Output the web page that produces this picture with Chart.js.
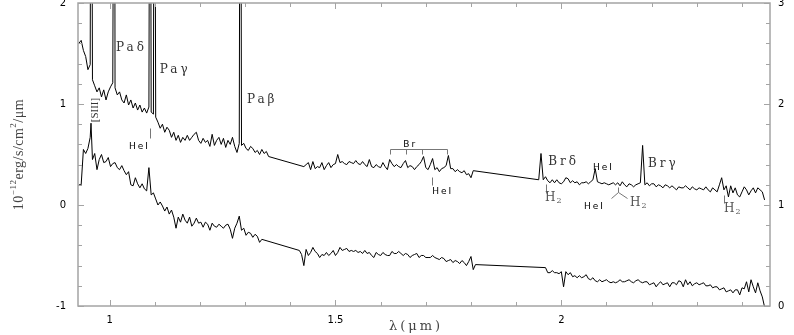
<!DOCTYPE html>
<html>
<head>
<meta charset="utf-8">
<script src="https://cdn.jsdelivr.net/npm/chart.js@4/dist/chart.umd.min.js"></script>
<style>
  html, body { margin: 0; padding: 0; background: #fff; }
</style>
</head>
<body>
<canvas id="chart" width="794" height="335"></canvas>
<script>
// sampling of the spectrograph (micron)
const gridStep = 0.005

// upper spectrum, flux in 1e-12 erg/s/cm2/um, one list per band
const upperJStart = 0.932
const upperJ = [1.60, 1.63, 1.53, 1.47, 1.34, 1.39, 1.24, 1.18, 1.12, 1.16, 1.07, 1.14, 1.04, 1.12, 1.17, 1.21,
  1.16, 1.09, 1.12, 1.04, 1.01, 1.09, 0.99, 1.04, 0.96, 1.01, 0.94, 0.99, 0.92, 0.96, 0.91, 0.97, 0.92, 0.90,
  0.87, 0.82, 0.76, 0.80, 0.72, 0.77, 0.74, 0.67, 0.72, 0.64, 0.69, 0.62, 0.67, 0.64, 0.69, 0.64, 0.67, 0.70,
  0.72, 0.64, 0.61, 0.66, 0.62, 0.64, 0.58, 0.70, 0.59, 0.64, 0.67, 0.60, 0.66, 0.57, 0.64, 0.60, 0.67, 0.58,
  0.52, 0.61, 0.59, 0.61, 0.56, 0.54, 0.58, 0.56, 0.52, 0.54, 0.50, 0.55, 0.51, 0.53, 0.48]
const upperHStart = 1.430
const upperH = [0.38, 0.40, 0.42, 0.35, 0.43, 0.36, 0.38, 0.37, 0.42, 0.35, 0.39, 0.42, 0.37, 0.40, 0.41, 0.50,
  0.42, 0.43, 0.41, 0.40, 0.43, 0.42, 0.41, 0.44, 0.41, 0.40, 0.43, 0.40, 0.38, 0.45, 0.38, 0.37, 0.40, 0.38,
  0.37, 0.42, 0.38, 0.35, 0.45, 0.41, 0.38, 0.40, 0.38, 0.37, 0.41, 0.44, 0.37, 0.39, 0.38, 0.35, 0.38, 0.40,
  0.43, 0.48, 0.37, 0.35, 0.40, 0.46, 0.35, 0.37, 0.33, 0.36, 0.37, 0.39, 0.49, 0.36, 0.36, 0.33, 0.35, 0.33,
  0.32, 0.34, 0.30, 0.31, 0.27, 0.34]
const upperKStart = 1.950
const upperK = [0.25, 0.51, 0.25, 0.28, 0.24, 0.22, 0.25, 0.22, 0.25, 0.22, 0.21, 0.23, 0.27, 0.26, 0.22, 0.24,
  0.22, 0.23, 0.20, 0.22, 0.22, 0.23, 0.21, 0.23, 0.25, 0.36, 0.23, 0.22, 0.21, 0.22, 0.21, 0.20, 0.21, 0.22,
  0.20, 0.22, 0.19, 0.23, 0.20, 0.18, 0.21, 0.20, 0.18, 0.20, 0.21, 0.22, 0.59, 0.20, 0.22, 0.19, 0.21, 0.21,
  0.18, 0.20, 0.19, 0.17, 0.20, 0.19, 0.17, 0.19, 0.17, 0.15, 0.18, 0.17, 0.17, 0.19, 0.17, 0.15, 0.18, 0.16,
  0.15, 0.17, 0.16, 0.15, 0.18, 0.15, 0.13, 0.17, 0.15, 0.13, 0.20, 0.27, 0.15, 0.19, 0.08, 0.19, 0.12, 0.17,
  0.10, 0.08, 0.13, 0.18, 0.15, 0.10, 0.14, 0.17, 0.12, 0.17, 0.15, 0.13, 0.05]
// strong lines of the upper spectrum: [wavelength, peak] (peaks run off the top)
const upperLines = [[0.9593, 6], [1.0106, 6], [1.0897, 6], [1.0990, 6], [1.2895, 6]]

// lower spectrum
const lowerJStart = 0.932
const lowerJ = [0.20, 0.20, 0.55, 0.51, 0.56, 0.67, 0.45, 0.51, 0.35, 0.45, 0.50, 0.42, 0.43, 0.47, 0.38, 0.41,
  0.42, 0.37, 0.35, 0.39, 0.34, 0.30, 0.33, 0.20, 0.19, 0.27, 0.21, 0.17, 0.21, 0.16, 0.14, 0.37, 0.10, 0.12,
  0.06, 0.00, 0.03, -0.01, -0.06, -0.02, -0.09, -0.05, -0.12, -0.23, -0.12, -0.17, -0.09, -0.15, -0.18, -0.12,
  -0.21, -0.18, -0.13, -0.18, -0.17, -0.22, -0.17, -0.19, -0.25, -0.18, -0.21, -0.22, -0.19, -0.21, -0.23,
  -0.20, -0.19, -0.24, -0.33, -0.23, -0.18, -0.11, -0.25, -0.23, -0.30, -0.27, -0.28, -0.32, -0.29, -0.31,
  -0.37, -0.34]
const lowerHStart = 1.420
const lowerH = [-0.45, -0.49, -0.60, -0.44, -0.50, -0.47, -0.42, -0.46, -0.48, -0.52, -0.49, -0.50, -0.47,
  -0.50, -0.48, -0.45, -0.50, -0.47, -0.42, -0.45, -0.44, -0.43, -0.46, -0.45, -0.46, -0.45, -0.47, -0.46,
  -0.48, -0.45, -0.48, -0.47, -0.50, -0.52, -0.47, -0.49, -0.50, -0.47, -0.49, -0.50, -0.50, -0.46, -0.48,
  -0.48, -0.46, -0.48, -0.50, -0.48, -0.49, -0.52, -0.50, -0.49, -0.48, -0.52, -0.50, -0.50, -0.52, -0.52,
  -0.52, -0.50, -0.52, -0.53, -0.54, -0.52, -0.53, -0.56, -0.55, -0.54, -0.57, -0.55, -0.56, -0.58, -0.55,
  -0.57, -0.60, -0.56, -0.51, -0.64, -0.59]
const lowerKStart = 1.965
const lowerK = [-0.62, -0.67, -0.67, -0.65, -0.67, -0.67, -0.68, -0.66, -0.81, -0.66, -0.69, -0.67, -0.71,
  -0.70, -0.72, -0.70, -0.72, -0.71, -0.69, -0.73, -0.74, -0.72, -0.75, -0.76, -0.74, -0.76, -0.75, -0.74,
  -0.76, -0.77, -0.76, -0.77, -0.76, -0.74, -0.76, -0.76, -0.75, -0.74, -0.76, -0.77, -0.75, -0.74, -0.76,
  -0.77, -0.76, -0.76, -0.79, -0.78, -0.77, -0.81, -0.78, -0.76, -0.79, -0.78, -0.77, -0.81, -0.77, -0.77,
  -0.79, -0.75, -0.76, -0.81, -0.74, -0.79, -0.76, -0.80, -0.78, -0.77, -0.79, -0.78, -0.77, -0.80, -0.80,
  -0.79, -0.82, -0.81, -0.81, -0.84, -0.83, -0.82, -0.86, -0.85, -0.84, -0.87, -0.84, -0.84, -0.89, -0.82,
  -0.83, -0.76, -0.86, -0.74, -0.81, -0.87, -0.77, -0.85, -0.91, -1.01]
const lowerLines = [[0.9588, 0.81]]

// axes
const xLabelTicks = [1, 1.5, 2]
const xMinorTicks = [1.0, 1.1, 1.2, 1.3, 1.4, 1.5, 1.6, 1.7, 1.8, 1.9, 2.0, 2.1, 2.2, 2.3, 2.4]
const yMinorTicks = [-0.8, -0.6, -0.4, -0.2, 0.2, 0.4, 0.6, 0.8, 1.2, 1.4, 1.6, 1.8]
const yMajorTicks = [-1, 0, 1, 2]

function segment(start, values) {
  return values.map((v, i) => ({x: +(start + i * gridStep).toFixed(4), y: v}))
}

function spectrum(segments, lines) {
  return segments.flat()
    .concat(lines.map(([x, y]) => ({x, y})))
    .sort((a, b) => a.x - b.x)
}

const upper = spectrum([segment(upperJStart, upperJ), segment(upperHStart, upperH), segment(upperKStart, upperK)], upperLines)
const lower = spectrum([segment(lowerJStart, lowerJ), segment(lowerHStart, lowerH), segment(lowerKStart, lowerK)], lowerLines)

const serif = 'DejaVu Serif'
const sans = 'DejaVu Sans'
const frameColor = '#a4a4a4'

// labels placed at (wavelength, flux)
const serifLabels = [
  {text: 'Paδ', x: 1.014, y: 1.56},
  {text: 'Paγ', x: 1.111, y: 1.34},
  {text: 'Paβ', x: 1.304, y: 1.04},
  {text: 'Brδ', x: 1.971, y: 0.43},
  {text: 'Brγ', x: 2.192, y: 0.41}
]
const sansLabels = [
  {text: 'HeI', x: 1.043, y: 0.58},
  {text: 'Br', x: 1.650, y: 0.60},
  {text: 'HeI', x: 1.714, y: 0.13},
  {text: 'HeI', x: 2.070, y: 0.37},
  {text: 'HeI', x: 2.050, y: -0.02}
]
const h2Labels = [
  {x: 1.964, y: 0.07},
  {x: 2.152, y: 0.02},
  {x: 2.360, y: -0.04}
]
const markers = [
  [[1.0892, 0.76], [1.0892, 0.66]],
  [[1.7137, 0.28], [1.7137, 0.20]],
  [[1.9661, 0.21], [1.9661, 0.12]],
  [[2.3603, 0.10], [2.3603, 0.02]],
  [[2.1249, 0.18], [2.1249, 0.13], [2.1101, 0.07]],
  [[2.1265, 0.13], [2.1455, 0.07]],
  [[1.6207, 0.505], [1.6207, 0.554], [1.7469, 0.554], [1.7469, 0.505]],
  [[1.6555, 0.554], [1.6555, 0.505]],
  [[1.6915, 0.554], [1.6915, 0.505]]
]

function runs(ctx, parts, cx, cy) {
  let total = 0
  parts.forEach(p => { ctx.font = p.font; total += ctx.measureText(p.t).width })
  let px = cx - total / 2
  parts.forEach(p => {
    ctx.font = p.font
    ctx.fillText(p.t, px, cy + (p.dy || 0))
    px += ctx.measureText(p.t).width
  })
}

const decorations = {
  id: 'decorations',
  afterDraw(chart) {
    const {ctx, chartArea: a, scales: {x, y}} = chart
    const X = v => x.getPixelForValue(v)
    const Y = v => y.getPixelForValue(v)
    ctx.save()

    // frame and inward ticks
    ctx.strokeStyle = frameColor
    ctx.lineWidth = 1.5
    ctx.strokeRect(a.left, a.top, a.right - a.left, a.bottom - a.top)
    ctx.lineWidth = 1
    ctx.beginPath()
    xMinorTicks.forEach(v => {
      const px = Math.round(X(v)) + 0.5
      const len = xLabelTicks.some(t => Math.abs(t - v) < 1e-6) ? 6 : 4
      ctx.moveTo(px, a.bottom); ctx.lineTo(px, a.bottom - len)
      ctx.moveTo(px, a.top); ctx.lineTo(px, a.top + len)
    })
    yMinorTicks.concat(yMajorTicks).forEach(v => {
      const py = Math.round(Y(v)) + 0.5
      const len = yMajorTicks.includes(v) ? 6 : 4
      ctx.moveTo(a.left, py); ctx.lineTo(a.left + len, py)
      ctx.moveTo(a.right, py); ctx.lineTo(a.right - len, py)
    })
    ctx.stroke()

    // line identification marks
    ctx.strokeStyle = '#777'
    ctx.lineWidth = 1
    markers.forEach(pts => {
      ctx.beginPath()
      pts.forEach(([vx, vy], i) => {
        const px = Math.round(X(vx)) + 0.5, py = Math.round(Y(vy)) + 0.5
        i ? ctx.lineTo(px, py) : ctx.moveTo(px, py)
      })
      ctx.stroke()
    })

    ctx.textBaseline = 'middle'
    ctx.textAlign = 'left'
    ctx.fillStyle = '#333'
    ctx.letterSpacing = '3px'
    ctx.font = `12px "${serif}"`
    serifLabels.forEach(l => ctx.fillText(l.text, X(l.x), Y(l.y)))

    ctx.fillStyle = '#000'
    ctx.letterSpacing = '2px'
    ctx.font = `9px "${sans}"`
    sansLabels.forEach(l => ctx.fillText(l.text, X(l.x), Y(l.y)))

    ctx.letterSpacing = '0px'
    ctx.fillStyle = '#555'
    h2Labels.forEach(l => {
      ctx.font = `12px "${serif}"`
      ctx.fillText('H', X(l.x), Y(l.y))
      const w = ctx.measureText('H').width
      ctx.font = `8px "${serif}"`
      ctx.fillText('2', X(l.x) + w + 1, Y(l.y) + 3)
    })

    // [SIII] written upwards
    ctx.save()
    ctx.fillStyle = '#333'
    ctx.translate(X(0.9674), Y(0.94))
    ctx.rotate(-Math.PI / 2)
    ctx.textAlign = 'center'
    ctx.font = `11px "Liberation Serif"`
    ctx.fillText('[SIII]', 0, 0)
    ctx.restore()

    // axis titles
    ctx.fillStyle = '#444'
    ctx.letterSpacing = '3px'
    ctx.font = `13px "${serif}"`
    ctx.textAlign = 'center'
    ctx.fillText('λ(μm)', (a.left + a.right) / 2 - 8, 327)
    ctx.textAlign = 'left'
    ctx.letterSpacing = '0.5px'
    ctx.save()
    ctx.translate(19, (a.top + a.bottom) / 2)
    ctx.rotate(-Math.PI / 2)
    const big = `14px "Liberation Serif"`, small = `9px "Liberation Serif"`
    runs(ctx, [
      {t: '10', font: big}, {t: '−12', font: small, dy: -5}, {t: 'erg/s/cm', font: big},
      {t: '2', font: small, dy: -5}, {t: '/μm', font: big}
    ], 0, 0)
    ctx.restore()

    ctx.restore()
  }
}

const tickFont = {family: sans, size: 10}
const lineStyle = {borderColor: '#000', borderWidth: 1, pointRadius: 0, tension: 0, fill: false}

new Chart(document.getElementById('chart'), {
  type: 'line',
  data: {
    datasets: [
      {label: 'upper', data: upper, yAxisID: 'y', ...lineStyle},
      {label: 'lower', data: lower, yAxisID: 'y', ...lineStyle}
    ]
  },
  options: {
    responsive: false,
    animation: false,
    events: [],
    layout: {padding: {top: 3, left: 0, right: 0, bottom: 0}},
    plugins: {legend: {display: false}, tooltip: {enabled: false}},
    scales: {
      x: {
        type: 'linear', min: 0.93, max: 2.462,
        grid: {display: false, drawTicks: false}, border: {display: false},
        ticks: {padding: 8, font: tickFont, color: '#000', maxRotation: 0, autoSkip: false,
          callback: v => String(v)},
        afterBuildTicks: s => { s.ticks = xLabelTicks.map(v => ({value: v})) },
        afterFit: s => { s.height = 29; s.paddingLeft = 0; s.paddingRight = 0 }
      },
      y: {
        position: 'left', min: -1, max: 2,
        grid: {display: false, drawTicks: false}, border: {display: false},
        ticks: {stepSize: 1, padding: 12, font: tickFont, color: '#000'},
        afterFit: s => { s.width = 78; s.paddingTop = 0; s.paddingBottom = 0 }
      },
      y2: {
        position: 'right', min: 0, max: 3,
        grid: {display: false, drawTicks: false}, border: {display: false},
        ticks: {stepSize: 1, padding: 8, font: tickFont, color: '#000'},
        afterFit: s => { s.width = 24; s.paddingTop = 0; s.paddingBottom = 0 }
      }
    }
  },
  plugins: [decorations]
})
</script>
</body>
</html>
